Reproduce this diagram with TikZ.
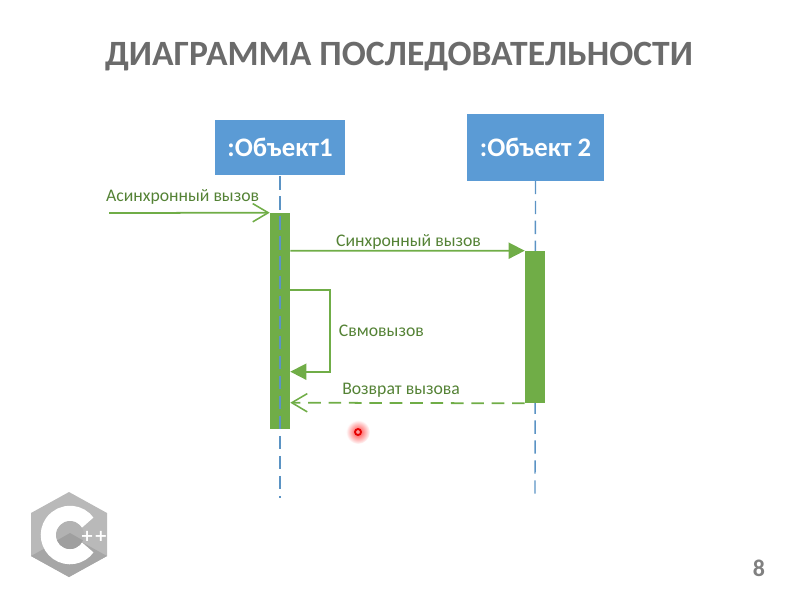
\documentclass[tikz,border=0pt]{standalone}
\usepackage{fontspec}
\setmainfont{Carlito}
\newfontfamily\logofont{DejaVu Sans}
\usetikzlibrary{arrows.meta,calc}
\definecolor{objblue}{HTML}{5B9BD5}
\definecolor{lifeblue}{HTML}{5B93C4}
\definecolor{callgreen}{HTML}{70AD47}
\definecolor{textgreen}{HTML}{548235}
\definecolor{titlegray}{HTML}{6B6B6B}
\tikzset{
    object/.style={fill=objblue, text=white, font=\fontsize{19}{21}\selectfont\bfseries, inner sep=0},
    lifeline/.style={draw=lifeblue, line width=1pt, dash pattern=on 9.5pt off 4.7pt},
    activation/.style={fill=callgreen, minimum width=0.5cm, inner sep=0},
    call/.style={draw=callgreen, line width=1.25pt},
    callsync/.style={call, -{Triangle[length=11.5pt, width=11.5pt]}},
    callasync/.style={call, -{Straight Barb[length=11pt, width=13pt, line width=1.1pt]}},
    calltext/.style={text=textgreen, font=\fontsize{12.6}{15}\selectfont},
}

\begin{document}
\begin{tikzpicture}[x=0.025cm, y=-0.025cm]
    \useasboundingbox (0, 0) rectangle (800, 600);
    \node[text=titlegray, font=\fontsize{25.3}{28}\selectfont\bfseries] (title) at (399, 57)
        {ДИАГРАММА ПОСЛЕДОВАТЕЛЬНОСТИ};

    \begin{scope}
        \node[object, minimum width=3.25cm, minimum height=1.375cm] (Obj1) at (280, 147.5) {:Объект1};
        \node[object, minimum width=3.425cm, minimum height=1.65cm] (Obj2) at (535.5, 147.5) {:Объект 2};
        \coordinate (End1) at (280, 498);
        \coordinate (End2) at (535, 495);
        \draw[lifeline] (Obj2.south) -- (End2);
        \node[activation, minimum height=5.4cm] (Bar1) at (280, 321) {};
        \node[activation, minimum height=3.8cm] (Bar2) at (535, 327) {};
        \draw[lifeline] ($(Obj1.south) + (0, 1)$) -- (End1);

        % calls
        \coordinate (Start) at (109, 213);
        \draw[callasync] (Start) -- (Bar1.north west)
            node[calltext, pos=0, anchor=south west, xshift=-6pt, yshift=2pt] (AsyncText) {Асинхронный вызов};
        \draw[callsync] ($(Bar1.north east) + (0, 38)$) -- (Bar2.north west)
            node[calltext, midway, anchor=south, xshift=0.025cm, yshift=-3pt] (SyncText) {Синхронный вызов};
        \draw[callsync] ($(Bar1.north east) + (0, 77)$) -| ++(40, 82) -- ++(-40, 0);
        \node[calltext, anchor=west] (SelfText) at (334, 331) {Свмовызов};
        \draw[callasync, dash pattern=on 9pt off 5.5pt] (Bar2.south west) -- ($(Bar1.north east) + (0, 190)$)
            node[calltext, midway, anchor=south, xshift=-0.16cm, yshift=0pt] (ReturnText) {Возврат вызова};
    \end{scope}

    % pointer
    \shade[inner color=red!75, outer color=white] (358, 432) circle (12);
    \draw[red!90!black, line width=1.3pt, fill=white!60!red] (358, 432) circle (3);

    % logo
    \begin{scope}
        \fill[gray!55] (69, 492) -- (107, 513) -- (107, 556) -- (69, 577) -- (31, 556) -- (31, 513) -- cycle;
        \fill[gray!70] (31, 556) -- (69, 535) -- (107, 556) -- (69, 577) -- cycle;
        \draw[white, line width=11pt] (70, 535) ++(35:21.5) arc[start angle=35, end angle=325, radius=21.5];
        \fill[gray!60] (70, 535) circle (14);
        \begin{scope}
            \clip (70, 535) circle (14);
            \fill[gray!75] (56, 549) -- (56, 541) -- (70, 533) -- (84, 541) -- (84, 549) -- cycle;
        \end{scope}
        \node[text=white, font=\logofont\fontsize{11.5}{12}\selectfont\bfseries, inner sep=0] (Plus) at (94, 536) {++};
    \end{scope}

    \node[text=gray, font=\fontsize{17}{19}\selectfont\bfseries] (Page) at (759, 568) {8};
\end{tikzpicture}
\end{document}
